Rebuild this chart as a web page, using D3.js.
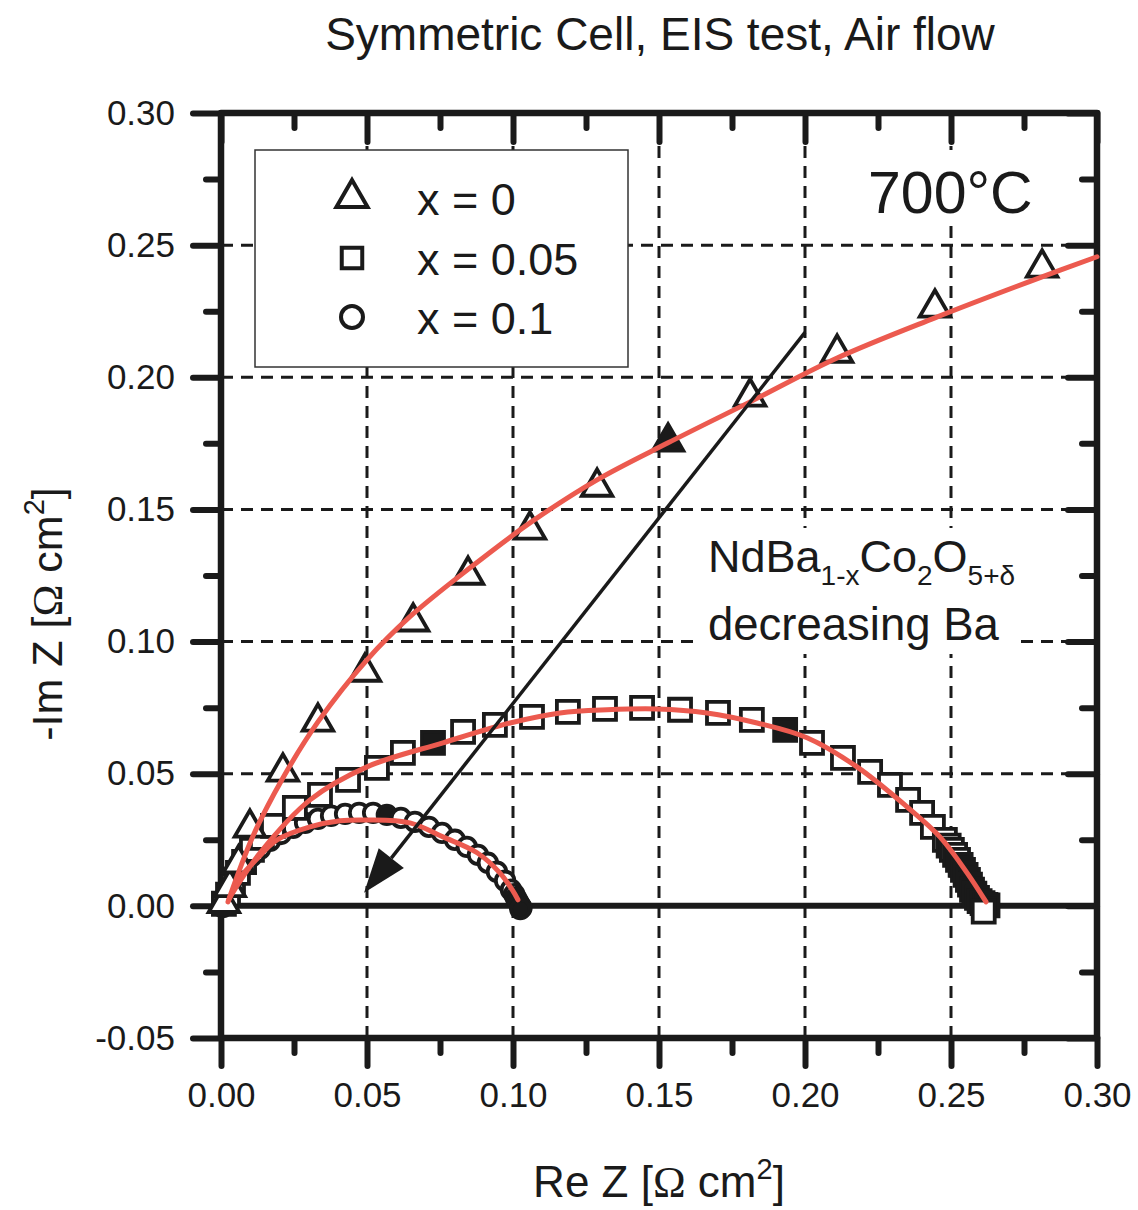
<!DOCTYPE html>
<html>
<head>
<meta charset="utf-8">
<script src="https://cdn.jsdelivr.net/npm/d3@7"></script>
<style>
  body { margin: 0; background: #fff; }
  svg text { font-family: "Liberation Sans", Arial, Helvetica, sans-serif; fill: #1a1a1a; }
</style>
</head>
<body>
<svg id="chart" width="1138" height="1210"></svg>
<script>
// ---- Data: Nyquist plots of NdBa(1-x)Co2O(5+d) symmetric cells, 700 °C, air ----
const seriesNames = ["x = 0", "x = 0.05", "x = 0.1"];

// x = 0 (triangles): Re Z, -Im Z  [ohm cm2]
const triRe = [0.001, 0.003, 0.006, 0.0099, 0.0212, 0.0332, 0.0493, 0.0658, 0.0846, 0.1058, 0.1288, 0.1531, 0.1812, 0.2110, 0.2445, 0.2812];
const triIm = [0.001, 0.007, 0.016, 0.0295, 0.0507, 0.0696, 0.0885, 0.1075, 0.1252, 0.1423, 0.1585, 0.1756, 0.1926, 0.2092, 0.2263, 0.2414];
const triFilled = [11];

// x = 0.05 (squares)
const sqRe = [0.0010, 0.0024, 0.0041, 0.0058, 0.0079, 0.0106, 0.0140, 0.0178, 0.0253, 0.0339, 0.0435, 0.0534, 0.0623, 0.0726, 0.0829, 0.0938, 0.1065, 0.1188, 0.1315, 0.1442, 0.1572, 0.1702, 0.1818, 0.1932, 0.2024, 0.2130, 0.2223, 0.2291, 0.2353, 0.2401, 0.2438, 0.2479,
  0.2492, 0.2503, 0.2514, 0.2524, 0.2533, 0.2541, 0.2550, 0.2558, 0.2565, 0.2572, 0.2580, 0.2589, 0.2598, 0.2608, 0.2618, 0.2625, 0.2612];
const sqIm = [0.0008, 0.0042, 0.0079, 0.0125, 0.0166, 0.0212, 0.0257, 0.0303, 0.0371, 0.0420, 0.0477, 0.0522, 0.0579, 0.0617, 0.0658, 0.0685, 0.0715, 0.0734, 0.0745, 0.0749, 0.0742, 0.0730, 0.0704, 0.0666, 0.0617, 0.0560, 0.0507, 0.0458, 0.0401, 0.0352, 0.0299, 0.0250,
  0.0228, 0.0212, 0.0193, 0.0174, 0.0155, 0.0136, 0.0117, 0.0098, 0.0080, 0.0061, 0.0046, 0.0030, 0.0018, 0.0010, 0.0004, 0.0002, -0.0022];
const sqFilled = [13, 23, 36, 37, 38, 39, 40, 41, 42, 43, 44, 45, 46, 47];

// x = 0.1 (circles)
const ciRe = [0.0006, 0.0012, 0.0021, 0.0034, 0.0051, 0.0075, 0.0103, 0.0134, 0.0168, 0.0205, 0.0247, 0.0288, 0.0332, 0.0377, 0.0425, 0.0473, 0.0521, 0.0568, 0.0616, 0.0664, 0.0712, 0.0757, 0.0801, 0.0842, 0.0880, 0.0914, 0.0945, 0.0973, 0.0993, 0.1004, 0.1010, 0.1016, 0.1020, 0.1024, 0.1027, 0.1029, 0.1025];
const ciIm = [-0.0005, 0.0012, 0.0038, 0.0076, 0.0114, 0.0151, 0.0185, 0.0216, 0.0246, 0.0272, 0.0295, 0.0314, 0.0329, 0.0341, 0.0348, 0.0352, 0.0352, 0.0344, 0.0333, 0.0318, 0.0299, 0.0276, 0.0250, 0.0223, 0.0193, 0.0163, 0.0129, 0.0095, 0.0061, 0.0044, 0.0030, 0.0018, 0.0008, 0.0002, -0.0004, -0.0008, -0.0012];
const ciFilled = [17, 30, 31, 32, 33, 34, 35, 36];

// Equivalent-circuit fits
const fitTriRe = [0.0024, 0.0110, 0.0212, 0.0332, 0.0500, 0.0647, 0.0853, 0.1058, 0.1288, 0.1531, 0.1812, 0.2110, 0.2445, 0.2812, 0.3000];
const fitTriIm = [0.0015, 0.0265, 0.0484, 0.0696, 0.0931, 0.1094, 0.1279, 0.1449, 0.1612, 0.1752, 0.1907, 0.2073, 0.2225, 0.2380, 0.2456];
const fitSqRe = [0.0031, 0.0134, 0.0305, 0.0500, 0.0760, 0.0990, 0.1161, 0.1322, 0.1493, 0.1664, 0.1836, 0.2007, 0.2178, 0.2349, 0.2462, 0.2555, 0.2620];
const fitSqIm = [0.0034, 0.0201, 0.0401, 0.0526, 0.0617, 0.0692, 0.0730, 0.0742, 0.0745, 0.0730, 0.0692, 0.0636, 0.0526, 0.0375, 0.0261, 0.0125, 0.0015];
const fitCiRe = [0.0027, 0.0065, 0.0120, 0.0192, 0.0305, 0.0408, 0.0500, 0.0647, 0.0760, 0.0877, 0.0955, 0.0997, 0.1017];
const fitCiIm = [0.0023, 0.0106, 0.0174, 0.0250, 0.0299, 0.0322, 0.0325, 0.0314, 0.0261, 0.0201, 0.0125, 0.0061, 0.0023];

// Trend arrow (Re, -Im): tail -> head
const arrowRe = [0.200, 0.0490];
const arrowIm = [0.217, 0.0050];

// Axis ticks
const xTicks = [0, 0.05, 0.10, 0.15, 0.20, 0.25, 0.30];
const xTickLabels = ["0.00", "0.05", "0.10", "0.15", "0.20", "0.25", "0.30"];
const xMinor = [0.025, 0.075, 0.125, 0.175, 0.225, 0.275];
const yTicks = [-0.05, 0, 0.05, 0.10, 0.15, 0.20, 0.25, 0.30];
const yTickLabels = ["-0.05", "0.00", "0.05", "0.10", "0.15", "0.20", "0.25", "0.30"];
const yMinor = [-0.025, 0.025, 0.075, 0.125, 0.175, 0.225, 0.275];

// ---- Layout ----
const svg = d3.select("#chart");
const L = 221, R = 1097, T = 113, B = 1038;
const x = d3.scaleLinear().domain([0, 0.30]).range([L, R]);
const y = d3.scaleLinear().domain([-0.05, 0.30]).range([B, T]);
const ink = "#1a1a1a";
const red = "#ec5a4f";

// Title
svg.append("text").attr("x", 660).attr("y", 50).attr("text-anchor", "middle")
  .attr("font-size", 46).text("Symmetric Cell, EIS test, Air flow");

// Dashed grid
const grid = svg.append("g").attr("stroke", ink).attr("stroke-width", 3).attr("stroke-dasharray", "12,8");
grid.selectAll("line.v").data(xTicks.slice(1, -1)).join("line")
  .attr("class", "v").attr("x1", d => x(d)).attr("x2", d => x(d)).attr("y1", B).attr("y2", T);
grid.selectAll("line.h").data(yTicks.filter(d => d > 0 && d < 0.30)).join("line")
  .attr("class", "h").attr("x1", L).attr("x2", R).attr("y1", d => y(d)).attr("y2", d => y(d));

// White panels behind annotations
svg.append("rect").attr("x", 862).attr("y", 150).attr("width", 180).attr("height", 76).attr("fill", "#fff");
svg.append("rect").attr("x", 700).attr("y", 528).attr("width", 320).attr("height", 126).attr("fill", "#fff");

// Zero line
svg.append("line").attr("x1", L).attr("x2", R).attr("y1", y(0)).attr("y2", y(0))
  .attr("stroke", ink).attr("stroke-width", 6);

// Axes
function styleAxis(g) {
  g.select(".domain").remove();
  g.selectAll(".tick line").attr("stroke", ink).attr("stroke-width", 6).attr("stroke-linecap", "round");
  g.selectAll(".tick text").attr("fill", ink).attr("font-size", 35)
    .attr("font-family", "\"Liberation Sans\", Arial, sans-serif");
}
const fmtX = d => xTickLabels[xTicks.indexOf(d)];
const fmtY = d => yTickLabels[yTicks.indexOf(d)];

svg.append("g").attr("transform", `translate(0,${B})`)
  .call(d3.axisBottom(x).tickValues(xTicks).tickFormat(fmtX).tickSize(28).tickPadding(16).tickSizeOuter(0))
  .call(styleAxis);
svg.append("g").attr("transform", `translate(0,${B})`)
  .call(d3.axisBottom(x).tickValues(xMinor).tickFormat("").tickSize(15).tickSizeOuter(0)).call(styleAxis);
svg.append("g").attr("transform", `translate(${L},0)`)
  .call(d3.axisLeft(y).tickValues(yTicks).tickFormat(fmtY).tickSize(28).tickPadding(18).tickSizeOuter(0))
  .call(styleAxis);
svg.append("g").attr("transform", `translate(${L},0)`)
  .call(d3.axisLeft(y).tickValues(yMinor).tickFormat("").tickSize(15).tickSizeOuter(0)).call(styleAxis);
svg.append("g").attr("transform", `translate(0,${T})`)
  .call(d3.axisTop(x).tickValues(xTicks).tickFormat("").tickSize(-29).tickSizeOuter(0)).call(styleAxis);
svg.append("g").attr("transform", `translate(0,${T})`)
  .call(d3.axisTop(x).tickValues(xMinor).tickFormat("").tickSize(-15).tickSizeOuter(0)).call(styleAxis);
svg.append("g").attr("transform", `translate(${R},0)`)
  .call(d3.axisRight(y).tickValues(yTicks).tickFormat("").tickSize(-29).tickSizeOuter(0)).call(styleAxis);
svg.append("g").attr("transform", `translate(${R},0)`)
  .call(d3.axisRight(y).tickValues(yMinor).tickFormat("").tickSize(-15).tickSizeOuter(0)).call(styleAxis);

// Frame
svg.append("rect").attr("x", L).attr("y", T).attr("width", R - L).attr("height", B - T)
  .attr("fill", "none").attr("stroke", ink).attr("stroke-width", 6.5).attr("stroke-linejoin", "round");

// Axis titles
const xt = svg.append("text").attr("x", 659).attr("y", 1197).attr("text-anchor", "middle").attr("font-size", 44);
xt.append("tspan").text("Re Z [");
xt.append("tspan").attr("font-family", "\"Liberation Serif\", serif").text("Ω");
xt.append("tspan").text(" cm");
xt.append("tspan").attr("font-size", 29).attr("dy", -18).text("2");
xt.append("tspan").attr("dy", 18).text("]");

const yt = svg.append("text").attr("transform", "translate(62,614) rotate(-90)")
  .attr("text-anchor", "middle").attr("font-size", 43);
yt.append("tspan").text("-Im Z [");
yt.append("tspan").attr("font-family", "\"Liberation Serif\", serif").text("Ω");
yt.append("tspan").text(" cm");
yt.append("tspan").attr("font-size", 29).attr("dy", -18).text("2");
yt.append("tspan").attr("dy", 18).text("]");

// Data markers
const plot = svg.append("g");
const sym = (type, size) => d3.symbol().type(type).size(size)();
function drawMarkers(re, im, filled, path, cls) {
  plot.selectAll("path." + cls).data(re.map((r, i) => ({ r, m: im[i], f: filled.includes(i) })))
    .join("path").attr("class", cls)
    .attr("d", path)
    .attr("transform", d => `translate(${x(d.r)},${y(d.m)})`)
    .attr("fill", d => d.f ? ink : "#fff")
    .attr("stroke", ink).attr("stroke-width", 3.8).attr("stroke-linejoin", "miter");
}
drawMarkers(ciRe, ciIm, ciFilled, sym(d3.symbolCircle, 270), "ci");
drawMarkers(sqRe, sqIm, sqFilled, sym(d3.symbolSquare, 484), "sq");
drawMarkers(triRe, triIm, triFilled, sym(d3.symbolTriangle, 400), "tri");

// Fit curves
const line = d3.line().x(d => x(d[0])).y(d => y(d[1])).curve(d3.curveCatmullRom.alpha(0.5));
[[fitTriRe, fitTriIm], [fitSqRe, fitSqIm], [fitCiRe, fitCiIm]].forEach(([re, im]) => {
  svg.append("path").attr("d", line(re.map((r, i) => [r, im[i]])))
    .attr("fill", "none").attr("stroke", red).attr("stroke-width", 5).attr("stroke-linecap", "round");
});

// Trend arrow
{
  const x0 = x(arrowRe[0]), y0 = y(arrowIm[0]), x1 = x(arrowRe[1]), y1 = y(arrowIm[1]);
  const ang = Math.atan2(y1 - y0, x1 - x0);
  const hl = 44, hw = 16;
  const bx = x1 - hl * Math.cos(ang), by = y1 - hl * Math.sin(ang);
  svg.append("line").attr("x1", x0).attr("y1", y0).attr("x2", bx).attr("y2", by)
    .attr("stroke", ink).attr("stroke-width", 3.5);
  const px = -Math.sin(ang), py = Math.cos(ang);
  svg.append("path")
    .attr("d", `M${x1},${y1}L${bx + hw * px},${by + hw * py}L${bx - hw * px},${by - hw * py}Z`)
    .attr("fill", ink);
}

// Annotations
svg.append("text").attr("x", 868).attr("y", 213).attr("font-size", 59).text("700°C");
const ann = svg.append("text").attr("x", 708).attr("y", 572).attr("font-size", 45);
ann.append("tspan").text("NdBa");
ann.append("tspan").attr("font-size", 28).attr("dy", 13).text("1-x");
ann.append("tspan").attr("dy", -13).text("Co");
ann.append("tspan").attr("font-size", 28).attr("dy", 13).text("2");
ann.append("tspan").attr("dy", -13).text("O");
ann.append("tspan").attr("font-size", 28).attr("dy", 13).text("5+δ");
svg.append("text").attr("x", 708).attr("y", 640).attr("font-size", 45.5).text("decreasing Ba");

// Legend
const lg = svg.append("g");
lg.append("rect").attr("x", 255).attr("y", 150).attr("width", 373).attr("height", 217)
  .attr("fill", "#fff").attr("stroke", "#333").attr("stroke-width", 1.5);
const legendSyms = [sym(d3.symbolTriangle, 420), sym(d3.symbolSquare, 420), sym(d3.symbolCircle, 380)];
const legendRows = [198, 258, 317];
seriesNames.forEach((name, i) => {
  lg.append("path").attr("d", legendSyms[i]).attr("transform", `translate(352,${legendRows[i]})`)
    .attr("fill", "#fff").attr("stroke", ink).attr("stroke-width", 4);
  lg.append("text").attr("x", 417).attr("y", legendRows[i] + 17).attr("font-size", 45).text(name);
});
</script>
</body>
</html>
